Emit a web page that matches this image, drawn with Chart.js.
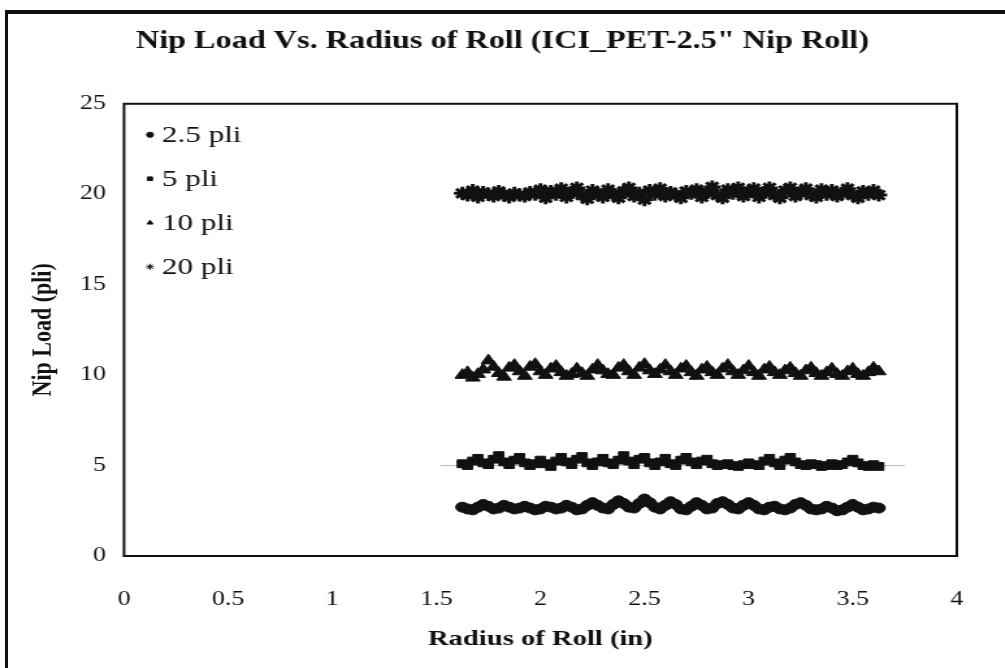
<!DOCTYPE html>
<html>
<head>
<meta charset="utf-8">
<script src="https://cdn.jsdelivr.net/npm/chart.js@4.4.1/dist/chart.umd.min.js"></script>
<style>
  html, body { margin: 0; padding: 0; background: #fff; overflow: hidden; }
  #frame { position: absolute; left: 5px; top: 10px; width: 1100px; height: 700px;
           border-left: 3px solid #111; border-top: 4px solid #111; }
  /* the plot is drawn narrow and widened, giving the broad lettering and markers */
  #chart { position: absolute; left: 0; top: 0; transform: scaleX(1.3); transform-origin: 0 0; }
</style>
</head>
<body>
<div id="frame"></div>
<canvas id="chart" width="773" height="668"></canvas>
<script>
// radius of roll (in)
const radius = [
  1.625, 1.65, 1.675, 1.7, 1.725, 1.75, 1.775, 1.8, 1.825, 1.85,
  1.875, 1.9, 1.925, 1.95, 1.975, 2.0, 2.025, 2.05, 2.075, 2.1,
  2.125, 2.15, 2.175, 2.2, 2.225, 2.25, 2.275, 2.3, 2.325, 2.35,
  2.375, 2.4, 2.425, 2.45, 2.475, 2.5, 2.525, 2.55, 2.575, 2.6,
  2.625, 2.65, 2.675, 2.7, 2.725, 2.75, 2.775, 2.8, 2.825, 2.85,
  2.875, 2.9, 2.925, 2.95, 2.975, 3.0, 3.025, 3.05, 3.075, 3.1,
  3.125, 3.15, 3.175, 3.2, 3.225, 3.25, 3.275, 3.3, 3.325, 3.35,
  3.375, 3.4, 3.425, 3.45, 3.475, 3.5, 3.525, 3.55, 3.575, 3.6,
  3.625
];

// measured nip load (pli) for each set point
const load25 = [
  2.70, 2.60, 2.55, 2.70, 2.85, 2.75, 2.60, 2.65, 2.80, 2.70,
  2.60, 2.65, 2.75, 2.65, 2.55, 2.60, 2.75, 2.70, 2.60, 2.65,
  2.80, 2.70, 2.55, 2.60, 2.80, 2.95, 2.80, 2.65, 2.60, 2.85,
  3.05, 2.90, 2.70, 2.65, 2.90, 3.15, 2.95, 2.70, 2.60, 2.80,
  3.00, 2.85, 2.60, 2.55, 2.75, 2.95, 2.80, 2.60, 2.65, 2.90,
  3.00, 2.85, 2.65, 2.60, 2.80, 2.95, 2.80, 2.60, 2.55, 2.70,
  2.75, 2.60, 2.55, 2.65, 2.85, 2.95, 2.80, 2.60, 2.55, 2.60,
  2.75, 2.65, 2.50, 2.55, 2.70, 2.85, 2.70, 2.55, 2.60, 2.70,
  2.65
];
const load5 = [
  5.10, 5.00, 5.25, 5.40, 5.15, 5.05, 5.35, 5.55, 5.20, 5.05,
  5.30, 5.45, 5.15, 5.00, 5.10, 5.30, 5.10, 4.95, 5.25, 5.45,
  5.20, 5.05, 5.35, 5.50, 5.15, 5.00, 5.20, 5.40, 5.15, 5.05,
  5.30, 5.55, 5.25, 5.05, 5.35, 5.45, 5.15, 5.00, 5.20, 5.40,
  5.10, 5.00, 5.30, 5.45, 5.20, 5.05, 5.25, 5.35, 5.10, 5.00,
  5.05, 5.10, 5.00, 4.95, 5.05, 5.15, 5.05, 5.00, 5.25, 5.40,
  5.15, 5.00, 5.30, 5.45, 5.20, 5.05, 5.00, 5.10, 5.05, 4.95,
  5.00, 5.10, 5.00, 5.05, 5.20, 5.35, 5.15, 5.00, 4.95, 5.05,
  4.95
];
const load10 = [
  10.00, 10.15, 9.85, 10.05, 10.30, 10.80, 10.45, 10.10, 9.90, 10.40,
  10.55, 10.20, 9.95, 10.45, 10.60, 10.20, 10.00, 10.35, 10.50, 10.15,
  9.95, 10.05, 10.35, 10.10, 9.95, 10.30, 10.55, 10.25, 10.05, 10.00,
  10.40, 10.55, 10.20, 10.00, 10.40, 10.60, 10.25, 10.05, 10.30, 10.55,
  10.20, 10.00, 10.35, 10.50, 10.15, 9.95, 10.30, 10.45, 10.15, 10.00,
  10.35, 10.55, 10.20, 10.00, 10.25, 10.50, 10.15, 9.95, 10.30, 10.45,
  10.15, 10.00, 10.25, 10.40, 10.10, 9.95, 10.25, 10.40, 10.10, 9.95,
  10.15, 10.35, 10.05, 9.95, 10.20, 10.35, 10.05, 9.95, 10.15, 10.40,
  10.20
];
const load20 = [
  20.05, 19.95, 20.20, 19.85, 20.10, 20.00, 19.90, 20.15, 19.95, 19.85,
  20.05, 19.95, 19.90, 20.10, 20.00, 20.25, 19.80, 20.15, 20.00, 20.30,
  19.85, 20.10, 20.35, 19.95, 19.75, 20.20, 20.05, 19.85, 20.25, 20.00,
  19.80, 20.15, 20.35, 19.90, 20.05, 19.70, 20.20, 20.00, 20.30, 19.90,
  20.10, 19.95, 19.80, 20.15, 20.05, 20.25, 19.85, 20.10, 20.40, 19.95,
  19.80, 20.25, 20.05, 20.35, 19.90, 20.15, 20.30, 19.85, 20.10, 20.35,
  19.95, 19.80, 20.20, 20.35, 19.90, 20.10, 20.30, 19.95, 19.85, 20.25,
  20.00, 20.20, 19.90, 20.05, 20.30, 19.95, 19.80, 20.15, 20.00, 20.20,
  19.95
];

// faint reference line at 5 pli
const refLineX = [1.52, 3.75];
const refLineY = [5, 5];

const seriesLabels = ['2.5 pli', '5 pli', '10 pli', '20 pli'];
const seriesStyles = ['circle', 'rect', 'triangle', 'star'];
const xTicks = [0, 0.5, 1, 1.5, 2, 2.5, 3, 3.5, 4];
const yTicks = [0, 5, 10, 15, 20, 25];

const serif = '"Liberation Serif", "Times New Roman", serif';
const ink = '#111';

function toPoints(xs, ys) {
  return xs.map((x, i) => ({ x: x, y: ys[i] }));
}

function markerRadius(style) {
  if (style == 'star') return 6.5;
  if (style == 'triangle') return 6.5;
  if (style == 'rect') return 5.5;
  return 5;
}

function createDataset(label, style, values) {
  return {
    label: label,
    data: toPoints(radius, values),
    showLine: false,
    pointStyle: style,
    pointRadius: markerRadius(style),
    pointBackgroundColor: ink,
    pointBorderColor: ink,
    pointBorderWidth: style == 'star' ? 3 : 1
  };
}

// black frame round the plotting area
const plotFrame = {
  id: 'plotFrame',
  afterDatasetsDraw(chart) {
    const { ctx, chartArea: a } = chart;
    ctx.save();
    ctx.strokeStyle = ink;
    ctx.lineWidth = 2;
    ctx.strokeRect(a.left, a.top, a.right - a.left, a.bottom - a.top);
    ctx.restore();
  }
};

// legend drawn inside the top-left corner of the plot
const insideLegend = {
  id: 'insideLegend',
  afterDraw(chart) {
    const { ctx, chartArea: a } = chart;
    ctx.save();
    ctx.font = '24px ' + serif;
    ctx.textBaseline = 'middle';
    ctx.fillStyle = ink;
    ctx.strokeStyle = ink;
    seriesLabels.forEach((label, i) => {
      let x = a.left + 20;
      let y = a.top + 31 + i * 44;
      let style = seriesStyles[i];
      Chart.helpers.drawPoint(ctx, {
        pointStyle: style,
        radius: style == 'star' ? 3 : 2.6,
        borderWidth: style == 'star' ? 2 : 1
      }, x, y);
      ctx.fillText(label, x + 9, y + 1);
    });
    ctx.restore();
  }
};

let datasets = [];
seriesLabels.forEach((label, i) => {
  datasets.push(createDataset(label, seriesStyles[i], [load25, load5, load10, load20][i]));
});
datasets.push({
  label: 'ref',
  data: toPoints(refLineX, refLineY),
  showLine: true,
  borderColor: '#bbb',
  borderWidth: 1,
  pointRadius: 0
});

let ctx = document.getElementById('chart').getContext('2d');
new Chart(ctx, {
  type: 'scatter',
  data: { datasets: datasets },
  options: {
    responsive: false,
    animation: { duration: 0 },
    layout: { padding: 0 },
    scales: {
      x: {
        type: 'linear',
        min: 0,
        max: 4,
        afterBuildTicks: (axis) => { axis.ticks = xTicks.map(v => ({ value: v })); },
        afterFit: (axis) => { axis.height = 112; },
        grid: { display: false, drawTicks: false },
        border: { display: false },
        ticks: {
          color: ink,
          padding: 32,
          maxRotation: 0,
          font: { family: serif, size: 20 },
          callback: (value) => `${value}`
        },
        title: {
          display: true,
          text: 'Radius of Roll (in)',
          color: ink,
          padding: { top: 4, bottom: 15 },
          font: { family: serif, size: 22, weight: 'bold' }
        }
      },
      y: {
        min: 0,
        max: 25,
        afterBuildTicks: (axis) => { axis.ticks = yTicks.map(v => ({ value: v })); },
        afterFit: (axis) => { axis.width = 95.4; },
        grid: { display: false, drawTicks: false },
        border: { display: false },
        ticks: {
          color: ink,
          padding: 14,
          font: { family: serif, size: 20 },
          callback: (value) => `${value}`
        },
        title: {
          display: true,
          text: 'Nip Load (pli)',
          color: ink,
          padding: { top: 20.6, bottom: 4 },
          font: { family: serif, size: 22, weight: 'bold' }
        }
      },
      // empty right-hand margin so the title stays centred on the page
      yRight: {
        position: 'right',
        afterFit: (axis) => { axis.width = 36; },
        grid: { display: false, drawTicks: false },
        border: { display: false },
        ticks: { display: false }
      }
    },
    plugins: {
      legend: { display: false },
      tooltip: { enabled: false },
      title: {
        display: true,
        text: 'Nip Load Vs. Radius of Roll (ICI_PET-2.5" Nip Roll)',
        color: ink,
        padding: { top: 27, bottom: 47 },
        font: { family: serif, size: 24.8, weight: 'bold' }
      }
    }
  },
  plugins: [plotFrame, insideLegend]
});
</script>
</body>
</html>
